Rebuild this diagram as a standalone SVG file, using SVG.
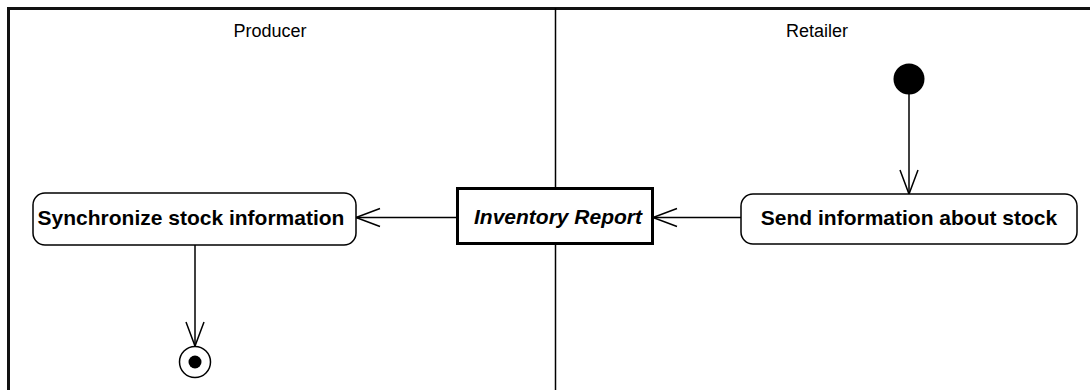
<svg xmlns="http://www.w3.org/2000/svg" width="1090" height="390" viewBox="0 0 1090 390">
  <defs>
    <marker id="open" markerWidth="28" markerHeight="22" refX="25" refY="11" orient="auto" markerUnits="userSpaceOnUse">
      <path d="M1,2 L25,11 L1,20" fill="none" stroke="#000" stroke-width="1.5"/>
    </marker>
  </defs>
  <style>
    .lane { font-family: "Liberation Sans", Arial, sans-serif; font-size: 18px; fill: #000; }
    .act { fill: #fff; stroke: #000; stroke-width: 1.5; }
    .lbl { font-family: "Liberation Sans", Arial, sans-serif; font-size: 21px; font-weight: bold; fill: #000; }
    .edge { fill: none; stroke: #000; stroke-width: 1.5; marker-end: url(#open); }
  </style>
  <rect width="1090" height="390" fill="#fff"/>
  <g id="swimlanes">
    <path d="M8.5,392 L8.5,8.5 L1092,8.5" fill="none" stroke="#111" stroke-width="3"/>
    <line x1="555.5" y1="8" x2="555.5" y2="390" stroke="#000" stroke-width="1.5"/>
    <text class="lane" x="270" y="37" text-anchor="middle">Producer</text>
    <text class="lane" x="817" y="37" text-anchor="middle">Retailer</text>
  </g>
  <g id="connectors">
    <line class="edge" x1="909" y1="94" x2="909" y2="194"/>
    <line class="edge" x1="741" y1="217.5" x2="653" y2="217.5"/>
    <line class="edge" x1="457" y1="217.5" x2="356" y2="217.5"/>
    <line class="edge" x1="195" y1="245" x2="195" y2="346"/>
  </g>
  <g id="start">
    <circle cx="909" cy="79" r="15.5" fill="#000"/>
  </g>
  <g id="send">
    <rect class="act" x="741" y="194" width="336" height="50" rx="12"/>
    <text class="lbl" x="909" y="225" text-anchor="middle">Send information about stock</text>
  </g>
  <g id="inventory">
    <rect x="457.5" y="188.5" width="195" height="55" fill="#fff" stroke="#000" stroke-width="3"/>
    <text class="lbl" x="558" y="224" text-anchor="middle" font-style="italic">Inventory Report</text>
  </g>
  <g id="sync">
    <rect class="act" x="33" y="193" width="323" height="52" rx="12"/>
    <text class="lbl" x="191" y="225" text-anchor="middle">Synchronize stock information</text>
  </g>
  <g id="end">
    <circle cx="195" cy="362" r="15.5" fill="#fff" stroke="#000" stroke-width="1.5"/>
    <circle cx="195" cy="362" r="6.5" fill="#000"/>
  </g>
</svg>
